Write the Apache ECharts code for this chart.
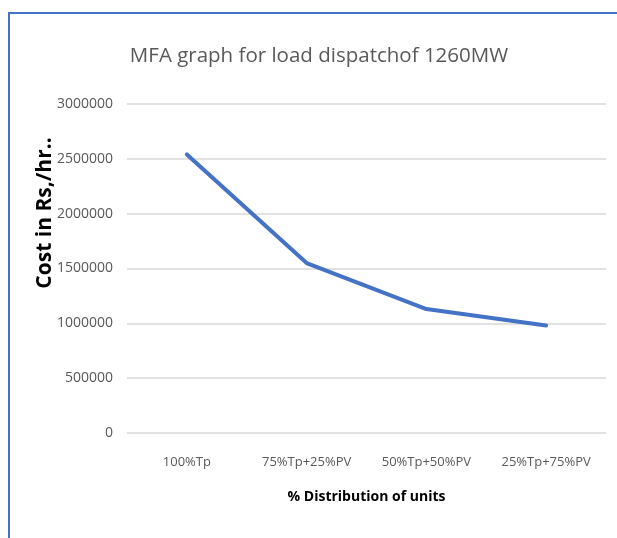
<!DOCTYPE html>
<html>
<head>
<meta charset="utf-8">
<script src="https://cdn.jsdelivr.net/npm/echarts@6/dist/echarts.min.js"></script>
<style>
	html, body { margin: 0; padding: 0; background: #fff; }
	#main { width: 617px; height: 538px; }
</style>
</head>
<body>
<div id="main"></div>
<script>
	var categories = ["100%Tp", "75%Tp+25%PV", "50%Tp+50%PV", "25%Tp+75%PV"];
	var costValues = [2540000, 1550000, 1130000, 980000];
	var yTicks = [0, 500000, 1000000, 1500000, 2000000, 2500000, 3000000];

	var font = '"Open Sans", sans-serif';
	var myLine = echarts.init(document.getElementById("main"));

	var option = {
		animation: false,
		backgroundColor: "#fff",
		title: {
			text: "MFA graph for load dispatchof 1260MW",
			left: 314,
			textAlign: "center",
			top: 41,
			textStyle: {
				fontFamily: font,
				fontWeight: "normal",
				fontSize: 20.5,
				color: "#595959"
			}
		},
		grid: {
			top: 104,
			bottom: 105,
			left: 127,
			right: 11
		},
		graphic: [{
			type: "polyline",
			shape: {
				points: [[9, 538], [9, 13], [617, 13]]
			},
			style: {
				stroke: "#4472C4",
				lineWidth: 2,
				fill: null
			}
		}, {
			type: "text",
			x: 45,
			y: 213,
			rotation: Math.PI / 2,
			style: {
				text: "Cost in Rs,/hr..",
				align: "center",
				verticalAlign: "middle",
				font: "bold 21px " + font,
				fill: "#000"
			}
		}],
		xAxis: {
			type: "category",
			data: categories,
			boundaryGap: true,
			name: "% Distribution of units",
			nameLocation: "middle",
			nameGap: 57,
			nameTextStyle: {
				fontFamily: font,
				fontWeight: "bold",
				fontSize: 14,
				color: "#000"
			},
			axisLine: { show: false },
			axisTick: { show: false },
			axisLabel: {
				interval: 0,
				fontFamily: font,
				fontSize: 13,
				color: "#595959",
				margin: 23
			}
		},
		yAxis: {
			type: "value",
			min: 0,
			max: 3000000,
			interval: 500000,
			axisLine: { show: false },
			axisTick: { show: false },
			axisLabel: {
				fontFamily: font,
				fontSize: 14,
				color: "#595959",
				margin: 14,
				formatter: function(v) {
					return yTicks.indexOf(v) >= 0 ? String(v) : "";
				}
			},
			splitLine: {
				lineStyle: {
					color: "#d9d9d9",
					width: 1.5
				}
			}
		},
		series: [{
			type: "line",
			data: costValues,
			showSymbol: false,
			symbol: "none",
			lineStyle: {
				color: "#4472C4",
				width: 4,
				cap: "round"
			}
		}]
	};
	myLine.setOption(option);
</script>
</body>
</html>
